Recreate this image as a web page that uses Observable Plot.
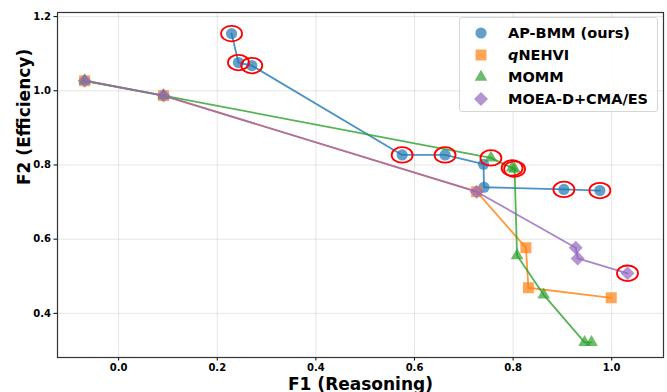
<!DOCTYPE html>
<html>
<head>
<meta charset="utf-8">
<script src="https://cdn.jsdelivr.net/npm/d3@7"></script>
<script src="https://cdn.jsdelivr.net/npm/@observablehq/plot@0.6"></script>
<style>
  body { margin: 0; background: #fff; font-family: "DejaVu Sans", sans-serif; }
  #wrap { position: relative; width: 667px; height: 392px; overflow: hidden; }
  #legend { position: absolute; left: 459px; top: 17px; width: 197px; height: 93px;
    border: 1px solid #d6d6d6; border-radius: 3px; background: rgba(255,255,255,0.85); }
  .row { position: absolute; left: 0; height: 22px; display: flex; align-items: center; }
  .row svg { position: absolute; left: 11px; top: 1px; }
  .row span { position: absolute; left: 48px; white-space: nowrap; font-weight: bold; font-size: 14.5px; color: #000; line-height: 22px; top: 0; }
</style>
</head>
<body>
<div id="wrap"></div>
<script>
// ---- data ----
const seriesNames = ["AP-BMM (ours)", "qNEHVI", "MOMM", "MOEA-D+CMA/ES"];
const seriesColors = ["#1f77b4", "#ff7f0e", "#2ca02c", "#9467bd"];

const apX = [0.229, 0.243, 0.270, 0.575, 0.662, 0.740, 0.741, 0.903, 0.976];
const apY = [1.154, 1.076, 1.068, 0.827, 0.827, 0.802, 0.740, 0.734, 0.731];
const apHi = [1, 1, 1, 1, 1, 0, 0, 1, 1];

const qX = [-0.069, 0.091, 0.726, 0.826, 0.831, 0.999];
const qY = [1.027, 0.987, 0.728, 0.577, 0.469, 0.442];
const qHi = [0, 0, 0, 0, 0, 0];

const moX = [-0.069, 0.091, 0.755, 0.798, 0.803, 0.808, 0.862, 0.945, 0.959];
const moY = [1.027, 0.987, 0.819, 0.792, 0.789, 0.556, 0.450, 0.322, 0.322];
const moHi = [0, 0, 1, 1, 1, 0, 0, 0, 0];

const meX = [-0.069, 0.091, 0.726, 0.927, 0.931, 1.032];
const meY = [1.027, 0.987, 0.728, 0.577, 0.548, 0.508];
const meHi = [0, 0, 0, 0, 0, 1];

const xTicks = [0.0, 0.2, 0.4, 0.6, 0.8, 1.0];
const yTicks = [0.4, 0.6, 0.8, 1.0, 1.2];
const xLabel = "F1 (Reasoning)";
const yLabel = "F2 (Efficiency)";

// ---- build ----
const toRows = (xs, ys, hi) => xs.map((x, i) => ({x, y: ys[i], hi: hi[i]}));
const series = [
  {data: toRows(apX, apY, apHi), symbol: "circle", r: 5.6},
  {data: toRows(qX, qY, qHi), symbol: "square", r: 6.2},
  {data: toRows(moX, moY, moHi), symbol: "triangle", r: 4.7},
  {data: toRows(meX, meY, meHi), symbol: "diamond2", r: 6.3}
];
const highlights = series.flatMap(s => s.data.filter(d => d.hi));

const ellipseSymbol = {
  draw(ctx, size) {
    const r = Math.sqrt(size / Math.PI);
    const rx = r, ry = r * 0.74, k = 0.5523;
    ctx.moveTo(rx, 0);
    ctx.bezierCurveTo(rx, ry * k, rx * k, ry, 0, ry);
    ctx.bezierCurveTo(-rx * k, ry, -rx, ry * k, -rx, 0);
    ctx.bezierCurveTo(-rx, -ry * k, -rx * k, -ry, 0, -ry);
    ctx.bezierCurveTo(rx * k, -ry, rx, -ry * k, rx, 0);
    ctx.closePath();
  }
};

const marks = [
  Plot.gridX(xTicks, {stroke: "#000", strokeOpacity: 0.1, strokeWidth: 1}),
  Plot.gridY(yTicks, {stroke: "#000", strokeOpacity: 0.1, strokeWidth: 1}),
  Plot.axisX({ticks: xTicks, tickFormat: d3.format(".1f"), tickSize: 3.5, tickPadding: 3, fontSize: 10, label: null}),
  Plot.axisY({ticks: yTicks, tickFormat: d3.format(".1f"), tickSize: 3.5, tickPadding: 3, fontSize: 10, label: null})
];
series.forEach((s, i) => {
  marks.push(Plot.line(s.data, {x: "x", y: "y", stroke: seriesColors[i], strokeWidth: 1.8, strokeOpacity: 0.8}));
  marks.push(Plot.dot(s.data, {x: "x", y: "y", symbol: s.symbol, r: s.r, fill: seriesColors[i], fillOpacity: 0.7, stroke: "none"}));
});
marks.push(Plot.dot(highlights, {x: "x", y: "y", symbol: ellipseSymbol, r: 10.5, fill: "none", stroke: "#ff0000", strokeWidth: 1.8}));
marks.push(Plot.frame({stroke: "#333", strokeWidth: 1.2}));
marks.push(Plot.text([xLabel], {frameAnchor: "bottom", dy: 32, lineAnchor: "bottom", fontSize: 17, fontWeight: "bold", fill: "#000"}));
marks.push(Plot.text([yLabel], {frameAnchor: "left", dx: -28, rotate: -90, lineAnchor: "bottom", fontSize: 17, fontWeight: "bold", fill: "#000"}));

const chart = Plot.plot({
  width: 667, height: 392,
  marginLeft: 57, marginRight: 4, marginTop: 12, marginBottom: 35,
  style: {fontFamily: "DejaVu Sans", fontWeight: "bold", background: "#fff", color: "#000", overflow: "visible"},
  x: {domain: [-0.124, 1.105]},
  y: {domain: [0.281, 1.211]},
  marks
});
const wrap = document.getElementById("wrap");
wrap.appendChild(chart);

// ---- legend ----
const legend = document.createElement("div");
legend.id = "legend";
const symTypes = [d3.symbolCircle, d3.symbolSquare, d3.symbolTriangle, d3.symbolDiamond2];
seriesNames.forEach((name, i) => {
  const row = document.createElement("div");
  row.className = "row";
  row.style.top = (3.5 + i * 22.3) + "px";
  const r = series[i].r;
  const path = d3.symbol(symTypes[i], r * r * Math.PI)();
  row.innerHTML = `<svg width="20" height="20" viewBox="-10 -10 20 20"><path d="${path}" fill="${seriesColors[i]}" fill-opacity="0.7"></path></svg>`;
  const span = document.createElement("span");
  if (name.startsWith("q")) {
    span.innerHTML = `<i>q</i>${name.slice(1)}`;
  } else {
    span.textContent = name;
  }
  row.appendChild(span);
  legend.appendChild(row);
});
wrap.appendChild(legend);
</script>
</body>
</html>
